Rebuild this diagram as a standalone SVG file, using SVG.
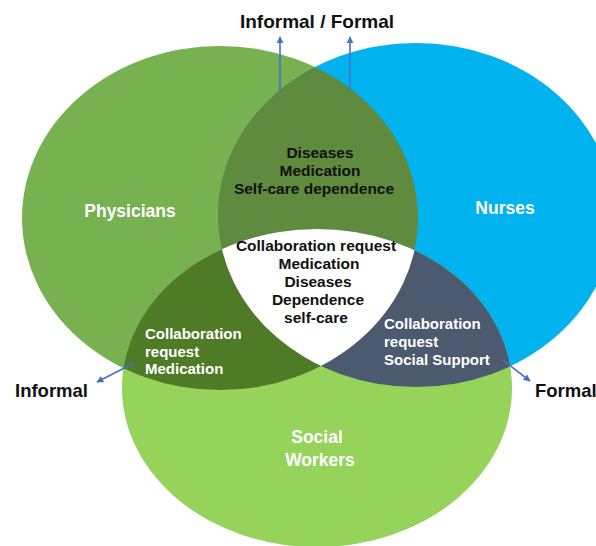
<svg xmlns="http://www.w3.org/2000/svg" width="596" height="546" viewBox="0 0 596 546">
<style>
.t{font-family:"Liberation Sans",Arial,sans-serif;font-weight:bold}
.w{fill:#ffffff}
.k{fill:#111111}
.conn{stroke:#4472C4;stroke-width:1.6;fill:none}
</style>
<defs>
<clipPath id="cP"><ellipse cx="220" cy="218" rx="198" ry="172"/></clipPath>
<clipPath id="cN"><ellipse cx="416" cy="215" rx="198" ry="172"/></clipPath>
<clipPath id="cS"><ellipse cx="317" cy="388" rx="195" ry="159"/></clipPath>
<marker id="ah" viewBox="0 0 10 10" refX="9" refY="5" markerWidth="7" markerHeight="7" orient="auto" markerUnits="userSpaceOnUse">
<path d="M0,0 L10,5 L0,10 Z" fill="#4472C4"/>
</marker>
</defs>
<rect width="596" height="546" fill="#ffffff"/>
<g id="physicians">
<ellipse cx="220" cy="218" rx="198" ry="172" fill="#77B150"/>
</g>
<g id="nurses">
<ellipse cx="416" cy="215" rx="198" ry="172" fill="#00B3EF"/>
</g>
<g id="social-workers">
<ellipse cx="317" cy="388" rx="195" ry="159" fill="#95D35A"/>
</g>
<g id="physicians-nurses">
<ellipse cx="220" cy="218" rx="198" ry="172" fill="#5E8B3E" clip-path="url(#cN)"/>
</g>
<g id="physicians-social">
<ellipse cx="220" cy="218" rx="198" ry="172" fill="#4F7A26" clip-path="url(#cS)"/>
</g>
<g id="nurses-social">
<ellipse cx="416" cy="215" rx="198" ry="172" fill="#4B5A6F" clip-path="url(#cS)"/>
</g>
<g id="center">
<g clip-path="url(#cN)">
<ellipse cx="220" cy="218" rx="198" ry="172" fill="#ffffff" clip-path="url(#cS)"/>
</g>
</g>
<g id="connectors">
<line class="conn" x1="280" y1="92" x2="280" y2="37" marker-end="url(#ah)"/>
<line class="conn" x1="350" y1="90" x2="350" y2="37" marker-end="url(#ah)"/>
<line class="conn" x1="134" y1="363" x2="97" y2="382" marker-end="url(#ah)"/>
<line class="conn" x1="503" y1="360" x2="530" y2="381" marker-end="url(#ah)"/>
</g>
<g id="labels">
<text class="t k" x="317" y="28" font-size="19" text-anchor="middle">Informal / Formal</text>
<text class="t k" x="15" y="397" font-size="18.5">Informal</text>
<text class="t k" x="535" y="397" font-size="18.5">Formal</text>
<text class="t w" x="130" y="217" font-size="17.5" text-anchor="middle">Physicians</text>
<text class="t w" x="505" y="214" font-size="17.5" text-anchor="middle">Nurses</text>
<text class="t w" x="317" y="443" font-size="17.5" text-anchor="middle">Social</text>
<text class="t w" x="320" y="466" font-size="17.5" text-anchor="middle">Workers</text>
<g class="t k" font-size="15.5" text-anchor="middle">
<text x="320" y="158">Diseases</text>
<text x="320" y="176">Medication</text>
<text x="314" y="194">Self-care dependence</text>
</g>
<g class="t k" font-size="15.5" text-anchor="middle">
<text x="316" y="251">Collaboration request</text>
<text x="319" y="269">Medication</text>
<text x="318" y="287">Diseases</text>
<text x="318" y="305">Dependence</text>
<text x="316" y="323">self-care</text>
</g>
<g class="t w" font-size="15">
<text x="145" y="339">Collaboration</text>
<text x="145" y="357">request</text>
<text x="145" y="374">Medication</text>
</g>
<g class="t w" font-size="15">
<text x="384" y="329">Collaboration</text>
<text x="384" y="347">request</text>
<text x="384" y="365">Social Support</text>
</g>
</g>
</svg>
